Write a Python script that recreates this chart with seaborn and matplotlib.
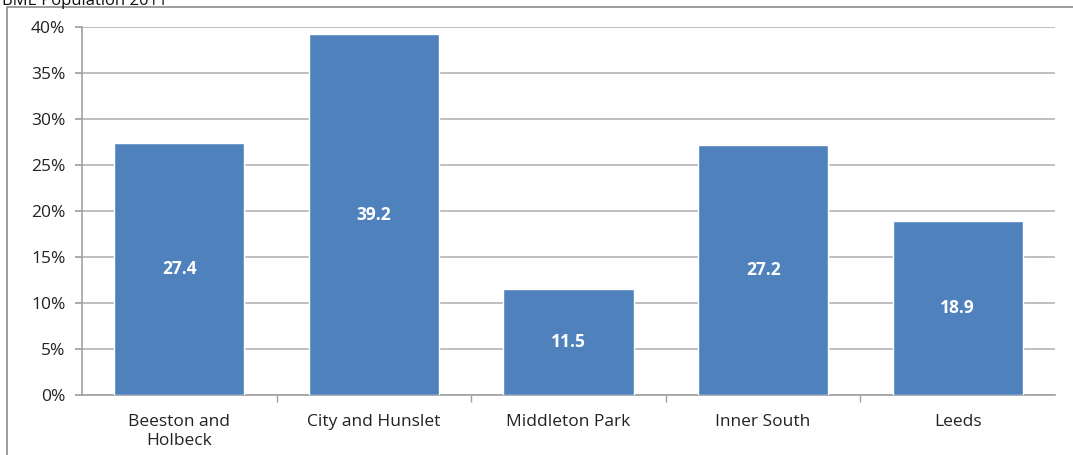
import matplotlib
matplotlib.use("Agg")
import matplotlib.pyplot as plt
import seaborn as sns
import pandas as pd
from matplotlib.patches import Rectangle
from matplotlib.ticker import FuncFormatter, FixedLocator

categories = ["Beeston and\nHolbeck", "City and Hunslet", "Middleton Park", "Inner South", "Leeds"]
values = [27.4, 39.2, 11.5, 27.2, 18.9]
title = "BME Population 2011"

sns.set_theme(style="white")
plt.rcParams['font.family'] = ['Open Sans', 'DejaVu Sans']

W, H = 1073, 455
fig = plt.figure(figsize=(W / 100, H / 100), dpi=100)
ax = fig.add_axes([82 / W, (H - 395) / H, (1055 - 82) / W, (395 - 27) / H])

# outer chart border
fig.patches.append(Rectangle((7 / W, -0.1), 1.2, (H - 7) / H + 0.1, transform=fig.transFigure,
                             fill=False, edgecolor="#8c8c8c", linewidth=1.2))
fig.text(2 / W, 1 - 5 / H, title, ha="left", va="baseline", fontsize=12, color="#111111")

df = pd.DataFrame({"cat": categories, "val": values})
sns.barplot(data=df, x="cat", y="val", color="#4F81BD", saturation=1, width=0.67, ax=ax, zorder=3)

for i, v in enumerate(values):
    ax.text(i, v / 2, f"{v}", ha="center", va="center", color="white", fontsize=12.5, fontweight="bold", zorder=4)

ax.set_ylim(0, 40)
ax.set_xlim(-0.5, len(categories) - 0.5)
ax.set_yticks(range(0, 41, 5))
ax.yaxis.set_major_formatter(FuncFormatter(lambda y, p: f"{int(y)}%"))
ax.grid(axis="y", color="#b4b4b4", linewidth=1.2, zorder=0)
ax.set_axisbelow(True)
ax.set_xlabel("")
ax.set_ylabel("")
for s in ["top", "right"]:
    ax.spines[s].set_visible(False)
ax.spines["left"].set_color("#a0a0a0")
ax.spines["bottom"].set_color("#a0a0a0")
ax.spines["left"].set_linewidth(1.2)
ax.spines["bottom"].set_linewidth(1.2)
ax.tick_params(axis="y", which="major", left=True, length=5, color="#a0a0a0", labelsize=12.5, labelcolor="#222222", pad=7)
ax.tick_params(axis="x", which="major", bottom=False, labelsize=12.5, labelcolor="#222222", pad=8)
ax.xaxis.set_minor_locator(FixedLocator([i + 0.5 for i in range(len(categories) - 1)]))
ax.tick_params(axis="x", which="minor", bottom=True, length=5, color="#a0a0a0")

fig.savefig("out.png", dpi=100)
